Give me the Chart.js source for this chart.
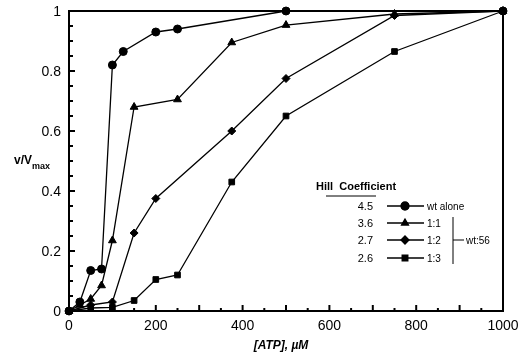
<!DOCTYPE html>
<html>
<head>
<meta charset="utf-8">
<script src="https://cdn.jsdelivr.net/npm/chart.js@4"></script>
<style>
  html, body { margin: 0; padding: 0; background: #fff; }
  #wrap { width: 529px; height: 355px; }
</style>
</head>
<body>
<div id="wrap"><canvas id="chart-atp"></canvas></div>
<script>
// data
const atpWt = [0, 25, 50, 75, 100, 125, 200, 250, 500, 1000];
const vWt = [0, 0.03, 0.135, 0.14, 0.82, 0.865, 0.93, 0.94, 1.0, 1.0];

const atp11 = [0, 25, 50, 75, 100, 150, 250, 375, 500, 750, 1000];
const v11 = [0, 0.02, 0.04, 0.085, 0.235, 0.68, 0.705, 0.895, 0.953, 0.99, 1.0];

const atp12 = [0, 50, 100, 150, 200, 375, 500, 750, 1000];
const v12 = [0, 0.02, 0.03, 0.26, 0.375, 0.6, 0.775, 0.985, 1.0];

const atp13 = [0, 50, 100, 150, 200, 250, 375, 500, 750, 1000];
const v13 = [0, 0.01, 0.012, 0.035, 0.105, 0.12, 0.43, 0.65, 0.865, 1.0];

const xTicks = [0, 200, 400, 600, 800, 1000];
const yTicks = [0, 0.2, 0.4, 0.6, 0.8, 1];

const hillValues = ["4.5", "3.6", "2.7", "2.6"];
const legendLabels = ["wt alone", "1:1", "1:2", "1:3"];
const legendShapes = ["circle", "triangle", "rectRot", "rect"];

function toPoints(xs, ys) {
  return xs.map((x, i) => ({ x: x, y: ys[i] }));
}

function makeSet(label, xs, ys, shape, radius) {
  return {
    label: label,
    data: toPoints(xs, ys),
    borderColor: "#000",
    backgroundColor: "#000",
    borderWidth: 1.3,
    pointStyle: shape,
    pointRadius: radius,
    pointBorderWidth: 1,
    showLine: true,
    tension: 0,
    clip: false,
  };
}

const FONT = "'Liberation Sans', Arial, sans-serif";

// frame, inward ticks, y labels, axis titles and the Hill coefficient key
const decorations = {
  id: "decorations",
  afterDraw(chart) {
    const ctx = chart.ctx;
    const a = chart.chartArea;
    const xs = chart.scales.x;
    const ys = chart.scales.y;
    ctx.save();
    ctx.strokeStyle = "#000";
    ctx.lineWidth = 2;
    ctx.strokeRect(a.left, a.top, a.right - a.left, a.bottom - a.top);

    for (let v = 0; v <= 1000; v += 50) {
      const px = xs.getPixelForValue(v);
      const len = v % 100 === 0 ? 6 : 3;
      ctx.beginPath();
      ctx.moveTo(px, a.bottom);
      ctx.lineTo(px, a.bottom - len);
      ctx.stroke();
    }
    for (let i = 0; i <= 20; i++) {
      const py = ys.getPixelForValue(i * 0.05);
      const len = i % 4 === 0 ? 6 : 4;
      ctx.beginPath();
      ctx.moveTo(a.left, py);
      ctx.lineTo(a.left + len, py);
      ctx.stroke();
    }

    // y tick labels
    ctx.fillStyle = "#000";
    ctx.font = "14px " + FONT;
    ctx.textAlign = "right";
    ctx.textBaseline = "middle";
    yTicks.forEach((v) => {
      ctx.fillText(String(v), a.left - 8, ys.getPixelForValue(v) + 1);
    });

    // axis titles
    ctx.textBaseline = "alphabetic";
    ctx.textAlign = "left";
    ctx.font = "bold 12px " + FONT;
    ctx.fillText("v/V", 14, 164);
    const w = ctx.measureText("v/V").width;
    ctx.font = "bold 9px " + FONT;
    ctx.fillText("max", 14 + w, 169);

    ctx.textAlign = "center";
    ctx.font = "italic bold 12px " + FONT;
    ctx.fillText("[ATP], \u00b5M", 281, 349);

    // key
    ctx.textAlign = "left";
    ctx.font = "bold 11px " + FONT;
    ctx.fillText("Hill  Coefficient", 316, 190);
    ctx.lineWidth = 1;
    ctx.beginPath();
    ctx.moveTo(326, 196);
    ctx.lineTo(376, 196);
    ctx.stroke();

    const rowsY = [206, 223, 240, 258];
    hillValues.forEach((h, i) => {
      const y = rowsY[i];
      ctx.textAlign = "right";
      ctx.font = "11px " + FONT;
      ctx.fillText(h, 373, y + 4);
      ctx.lineWidth = 1.3;
      ctx.beginPath();
      ctx.moveTo(387, y);
      ctx.lineTo(424, y);
      ctx.stroke();
      Chart.helpers.drawPoint(ctx, { pointStyle: legendShapes[i], radius: 4, borderWidth: 1 }, 405, y);
      ctx.fill();
      ctx.textAlign = "left";
      ctx.font = "10px " + FONT;
      ctx.fillText(legendLabels[i], 427, y + 4);
    });

    // bracket for wt:56
    ctx.lineWidth = 1;
    ctx.beginPath();
    ctx.moveTo(453, rowsY[1] - 6);
    ctx.lineTo(453, rowsY[3] + 6);
    ctx.moveTo(453, rowsY[2]);
    ctx.lineTo(464, rowsY[2]);
    ctx.stroke();
    ctx.font = "10px " + FONT;
    ctx.fillText("wt:56", 466, rowsY[2] + 4);
    ctx.restore();
  },
};

const ctxAtp = document.getElementById("chart-atp");
new Chart(ctxAtp, {
  type: "scatter",
  data: {
    datasets: [
      makeSet("wt alone", atpWt, vWt, "circle", 4),
      makeSet("1:1", atp11, v11, "triangle", 4.5),
      makeSet("1:2", atp12, v12, "rectRot", 4),
      makeSet("1:3", atp13, v13, "rect", 4),
    ],
  },
  options: {
    responsive: true,
    maintainAspectRatio: false,
    animation: false,
    layout: { padding: { top: 11, right: 26, left: 0, bottom: 0 } },
    plugins: { legend: { display: false }, tooltip: { enabled: false } },
    scales: {
      x: {
        type: "linear",
        min: 0,
        max: 1000,
        afterFit: (s) => { s.height = 44; },
        afterBuildTicks: (s) => { s.ticks = xTicks.map((v) => ({ value: v })); },
        grid: { display: false, drawTicks: false },
        border: { display: false },
        ticks: {
          padding: 7,
          color: "#000",
          font: { family: FONT, size: 14 },
          callback: (v) => String(v),
        },
      },
      y: {
        type: "linear",
        min: 0,
        max: 1,
        afterFit: (s) => { s.width = 69; },
        afterBuildTicks: (s) => { s.ticks = yTicks.map((v) => ({ value: v })); },
        grid: { display: false, drawTicks: false },
        border: { display: false },
        ticks: { display: false },
      },
    },
  },
  plugins: [decorations],
});
</script>
</body>
</html>
